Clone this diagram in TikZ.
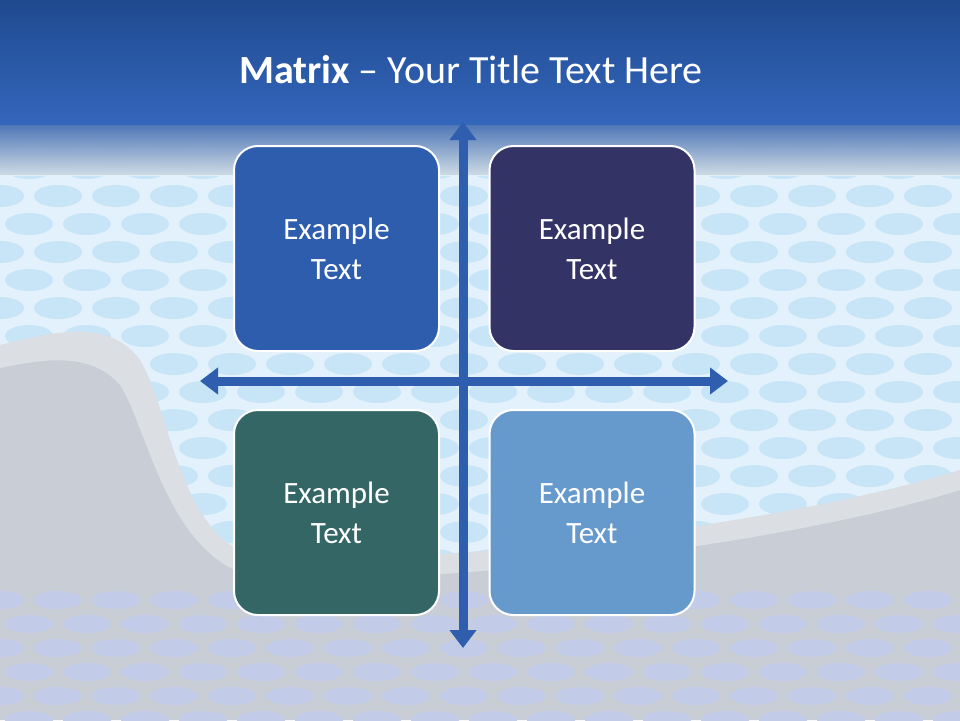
\documentclass[tikz,border=0pt]{standalone}
\usepackage{fontspec}
\setmainfont{Carlito}
\usetikzlibrary{arrows.meta}
\definecolor{topA}{HTML}{1F4A8F}
\definecolor{topB}{HTML}{3466BC}
\definecolor{skyc}{HTML}{E2F1FB}
\definecolor{dotc}{HTML}{C8E5F7}
\definecolor{grayc}{HTML}{C9CDD5}
\definecolor{graydot}{HTML}{C2CCE8}
\definecolor{cA}{HTML}{2D5DAC}
\definecolor{cB}{HTML}{343366}
\definecolor{cC}{HTML}{356666}
\definecolor{cD}{HTML}{6699CC}
\definecolor{arr}{HTML}{2E5EAD}
\tikzset{quad/.style={draw=white,line width=2pt,rounded corners=24pt,minimum width=205pt,minimum height=205pt,text=white,font=\fontsize{31}{40}\selectfont,align=center},
axis/.style={arr,line width=9pt,{Triangle[width=26pt,length=18pt]}-{Triangle[width=26pt,length=18pt]}}}
\begin{document}
\begin{tikzpicture}[x=1pt,y=-1pt]
\useasboundingbox (0,0) rectangle (960,720);
\fill[skyc] (0,0) rectangle (960,720);
\begin{scope}
\clip (0,125) rectangle (960,720);
\foreach \r in {0,...,22}{\foreach \c in {0,...,18}{
 \fill[dotc] ({\c*58+mod(\r,2)*29},{140+\r*28}) ellipse (24pt and 11pt);}}
\end{scope}
\fill[top color=topA,bottom color=topB] (0,0) rectangle (960,125);
\fill[top color=topB!80!skyc,bottom color=skyc,opacity=0.9] (0,125) rectangle (960,175);
\fill[grayc] (0,345) .. controls (60,330) and (110,320) .. (140,360) .. controls (175,420) and (180,560) .. (280,560) .. controls (500,560) and (800,520) .. (960,470) -- (960,720) -- (0,720) -- cycle;
\fill[white,opacity=0.35] (0,345) .. controls (60,330) and (110,320) .. (140,360) .. controls (175,420) and (180,560) .. (280,560) .. controls (500,560) and (800,520) .. (960,470) -- (960,490) .. controls (800,540) and (500,580) .. (280,580) .. controls (170,580) and (150,430) .. (120,385) .. controls (90,350) and (40,360) .. (0,368) -- cycle;
\begin{scope}
\clip (0,590) rectangle (960,720);
\foreach \r in {0,...,5}{\foreach \c in {0,...,18}{
 \fill[graydot] ({\c*58+mod(\r,2)*29},{600+\r*24}) ellipse (24pt and 9pt);}}
\end{scope}
\node[text=white,font=\fontsize{40}{46}\selectfont] (title) at (471,70) {\textbf{Matrix} – Your Title Text Here};
\coordinate (vt) at (463,122); \coordinate (vb) at (463,648);
\coordinate (hl) at (200,381); \coordinate (hr) at (728,381);
\draw[axis] (vt) -- (vb);
\draw[axis] (hl) -- (hr);
\node[quad,fill=cA] (q1) at (336.5,248.5) {Example\\Text};
\node[quad,fill=cB] (q2) at (592,248.5) {Example\\Text};
\node[quad,fill=cC] (q3) at (336.5,512.5) {Example\\Text};
\node[quad,fill=cD] (q4) at (592,512.5) {Example\\Text};
\end{tikzpicture}
\end{document}
